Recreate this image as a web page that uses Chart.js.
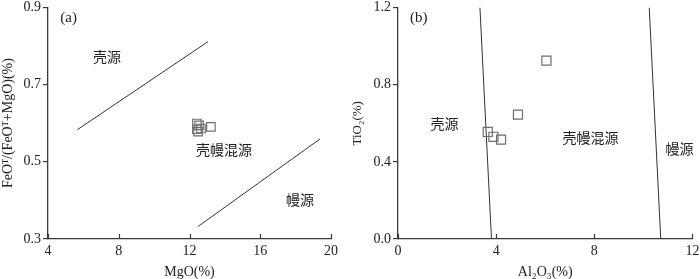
<!DOCTYPE html>
<html><head><meta charset="utf-8">
<script src="https://cdn.jsdelivr.net/npm/chart.js@4/dist/chart.umd.min.js"></script>
<style>
html,body{margin:0;padding:0;background:#fff;overflow:hidden;width:700px;height:279px;position:relative}
#ca{position:absolute;left:0;top:0}
#cb{position:absolute;left:350px;top:0}
</style></head><body>
<canvas id="ca" width="350" height="279"></canvas>
<canvas id="cb" width="350" height="279"></canvas>
<script>
// ---- Panel (a) data ----
const mgoValues = [12.42, 12.54, 12.42, 12.65, 12.48, 13.21];
const feoRatioValues = [0.599, 0.594, 0.584, 0.586, 0.578, 0.590];
const lineA1X = [5.66, 13.05];
const lineA1Y = [0.583, 0.811];
const lineA2X = [12.5, 19.38];
const lineA2Y = [0.333, 0.559];
const aXTicks = [4, 8, 12, 16, 20];
const aYTicks = [0.3, 0.5, 0.7, 0.9];
const aRegionNames = ['壳源', '壳幔混源', '幔源'];
const aRegionX = [7.34, 13.95, 18.25];
const aRegionY = [0.771, 0.530, 0.401];

// ---- Panel (b) data ----
const al2o3Values = [3.66, 3.89, 4.20, 4.89, 6.05];
const tio2Values = [0.555, 0.530, 0.515, 0.645, 0.925];
const lineB1X = [3.34, 3.81];
const lineB1Y = [1.2, 0.0];
const lineB2X = [10.24, 10.71];
const lineB2Y = [1.2, 0.0];
const bXTicks = [0, 4, 8, 12];
const bYTicks = [0.0, 0.4, 0.8, 1.2];
const bRegionNames = ['壳源', '壳幔混源', '幔源'];
const bRegionX = [1.9, 7.85, 11.47];
const bRegionY = [0.598, 0.527, 0.47];

const AXIS = '#3a3a3a';
const SERIF = "'Liberation Serif','DejaVu Serif',serif";
const CJK = "'Noto Sans CJK SC','Noto Sans CJK JP',sans-serif";

function pts(xs, ys){ return xs.map((x,i)=>({x:x, y:ys[i]})); }

const innerTicks = {
  id:'innerTicks',
  afterDraw(chart){
    const xs = chart.scales.x, ctx = chart.ctx;
    ctx.save(); ctx.strokeStyle = AXIS; ctx.lineWidth = 1.2;
    xs.ticks.forEach(t=>{
      const px = Math.round(xs.getPixelForValue(t.value)) + 0.5;
      ctx.beginPath(); ctx.moveTo(px, xs.top); ctx.lineTo(px, xs.top - 5); ctx.stroke();
    });
    ctx.restore();
  }
};

const regionText = {
  id:'regionText',
  afterDatasetsDraw(chart, args, opts){
    const ctx = chart.ctx, xs = chart.scales.x, ys = chart.scales.y;
    ctx.save();
    ctx.fillStyle = '#222'; ctx.textAlign = 'center'; ctx.textBaseline = 'middle';
    ctx.font = '14px ' + CJK;
    opts.names.forEach((n,i)=>{
      ctx.fillText(n, xs.getPixelForValue(opts.xs[i]), ys.getPixelForValue(opts.ys[i]));
    });
    ctx.font = '15px ' + SERIF;
    ctx.fillText(opts.panel, xs.getPixelForValue(opts.panelX), ys.getPixelForValue(opts.panelY));
    ctx.restore();
  }
};

function makeChart(id, cfg){
  const xTickVals = cfg.xTicks, yTickVals = cfg.yTicks;
  return new Chart(document.getElementById(id), {
    type:'scatter',
    data:{ datasets:[
      { data: pts(cfg.px, cfg.py), pointStyle:'rect', pointRadius: cfg.pr, pointHoverRadius: cfg.pr,
        backgroundColor:'rgba(255,255,255,0)', borderColor:'#6e6e6e', borderWidth:1.2 },
      { data: pts(cfg.l1x, cfg.l1y), showLine:true, pointRadius:0, borderColor:'#333', borderWidth:1, fill:false },
      { data: pts(cfg.l2x, cfg.l2y), showLine:true, pointRadius:0, borderColor:'#333', borderWidth:1, fill:false }
    ]},
    options:{
      responsive:false, animation:false, devicePixelRatio:1,
      layout:{ padding:{ left:0, top:2.5, right: cfg.padRight, bottom:0 } },
      plugins:{ legend:{display:false}, tooltip:{enabled:false},
        regionText:{ names:cfg.names, xs:cfg.nx, ys:cfg.ny, panel:cfg.panel, panelX:cfg.panelX, panelY:cfg.panelY } },
      scales:{
        x:{ type:'linear', min:xTickVals[0], max:xTickVals[xTickVals.length-1],
          afterBuildTicks(s){ s.ticks = xTickVals.map(v=>({value:v})); },
          afterFit(s){ s.height = 40; s.paddingLeft = 0; s.paddingRight = 0; },
          grid:{ display:true, drawOnChartArea:false, drawTicks:false },
          border:{ display:true, color:AXIS, width:1.3 },
          ticks:{ color:'#222', padding:4, font:{ family:SERIF, size:14 }, maxRotation:0, callback:(v)=>String(v) },
          title:{ display:true, text:cfg.xTitle, color:'#222', font:{ family:SERIF, size:14, lineHeight:1 }, padding:{top:0,bottom:0} }
        },
        y:{ type:'linear', min:yTickVals[0], max:yTickVals[yTickVals.length-1],
          afterBuildTicks(s){ s.ticks = yTickVals.map(v=>({value:v})); },
          afterFit(s){ s.width = 48; s.paddingTop = 0; s.paddingBottom = 0; },
          grid:{ display:true, drawOnChartArea:false, drawTicks:true, tickLength:5, color:AXIS, lineWidth:1.2 },
          border:{ display:true, color:AXIS, width:1.3 },
          ticks:{ color:'#222', padding:2, font:{ family:SERIF, size:14 }, callback:(v)=>Number(v).toFixed(1) },
          title:{ display:true, text:cfg.yTitle, color:'#222', font:{ family:SERIF, size:cfg.yTitleSize, lineHeight:1.2 }, padding:{top:0,bottom:0} }
        }
      }
    },
    plugins:[innerTicks, regionText]
  });
}

makeChart('ca', {
  px:mgoValues, py:feoRatioValues, pr:6,
  l1x:lineA1X, l1y:lineA1Y, l2x:lineA2X, l2y:lineA2Y,
  xTicks:aXTicks, yTicks:aYTicks, padRight:19,
  names:aRegionNames, nx:aRegionX, ny:aRegionY,
  panel:'(a)', panelX:5.17, panelY:0.872,
  xTitle:'MgO(%)', yTitle:'FeOᵀ/(FeOᵀ+MgO)(%)', yTitleSize:14
});
makeChart('cb', {
  px:al2o3Values, py:tio2Values, pr:6.4,
  l1x:lineB1X, l1y:lineB1Y, l2x:lineB2X, l2y:lineB2Y,
  xTicks:bXTicks, yTicks:bYTicks, padRight:5,
  names:bRegionNames, nx:bRegionX, ny:bRegionY,
  panel:'(b)', panelX:0.85, panelY:1.148,
  xTitle:'Al₂O₃(%)', yTitle:'TiO₂(%)', yTitleSize:13
});
</script>
</body></html>
